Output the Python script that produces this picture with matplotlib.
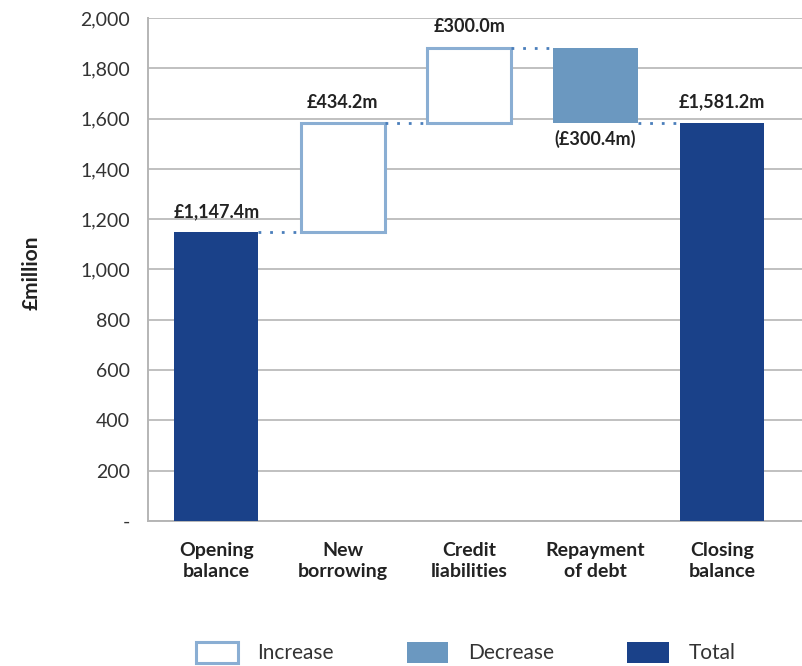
import numpy as np
import matplotlib.pyplot as plt
from matplotlib.patches import Patch

# data
categories = ["Opening\nbalance", "New\nborrowing", "Credit\nliabilities", "Repayment\nof debt", "Closing\nbalance"]
changes = [1147.4, 434.2, 300.0, -300.4, 1581.2]
kinds = ["total", "increase", "increase", "decrease", "total"]
labels = ["£1,147.4m", "£434.2m", "£300.0m", "(£300.4m)", "£1,581.2m"]
yticks = [0, 200, 400, 600, 800, 1000, 1200, 1400, 1600, 1800, 2000]
ytick_labels = ["-", "200", "400", "600", "800", "1,000", "1,200", "1,400", "1,600", "1,800", "2,000"]

c_total = "#1a4189"
c_dec = "#6b98c0"
c_inc_edge = "#8aaed3"
c_dot = "#4a7ebb"
c_grid = "#b5b5b5"
c_text = "#222222"

plt.rcParams["font.family"] = ["Lato", "DejaVu Sans"]

fig = plt.figure(figsize=(8.03, 6.66), dpi=100)
ax = fig.add_axes([0.1843, 0.2177, 0.8157, 0.7553])

x = np.arange(len(categories))
w = 0.667

# bottoms / tops for the waterfall
bottoms, tops = [], []
level = 0.0
for v, k in zip(changes, kinds):
    if k == "total":
        bottoms.append(0.0)
        tops.append(v)
        level = v
    else:
        new = level + v
        bottoms.append(min(level, new))
        tops.append(max(level, new))
        level = new

for i, k in enumerate(kinds):
    h = tops[i] - bottoms[i]
    if k == "total":
        ax.bar(x[i], h, w, bottom=bottoms[i], color=c_total, zorder=3)
    elif k == "decrease":
        ax.bar(x[i], h, w, bottom=bottoms[i], color=c_dec, zorder=3)
    else:
        ax.bar(x[i], h, w, bottom=bottoms[i], facecolor="white",
               edgecolor=c_inc_edge, linewidth=2.2, zorder=3)

# connectors
running = 0.0
for i in range(len(changes) - 1):
    running = changes[i] if kinds[i] == "total" else running + changes[i]
    ax.plot([x[i] + w / 2, x[i + 1] - w / 2], [running, running],
            linestyle=(0, (1, 3.2)), color=c_dot, linewidth=2, zorder=4)

# value labels
for i, lab in enumerate(labels):
    if kinds[i] == "decrease":
        ax.text(x[i], bottoms[i] - 28, lab, ha="center", va="top",
                fontsize=13, fontweight="bold", color=c_text)
    else:
        ax.text(x[i], tops[i] + 50, lab, ha="center", va="bottom",
                fontsize=13, fontweight="bold", color=c_text)

ax.set_xlim(-0.54, 4.64)
ax.set_ylim(0, 2000)
ax.set_yticks(yticks)
ax.set_yticklabels(ytick_labels, fontsize=14, color="#333333")
ax.set_xticks(x)
ax.set_xticklabels(categories, fontsize=14, fontweight="bold", color=c_text,
                   linespacing=1.3)
ax.tick_params(axis="both", length=0)
ax.tick_params(axis="y", pad=13)
ax.tick_params(axis="x", pad=15)
ax.grid(axis="y", color=c_grid, linewidth=1.2, zorder=0)
for s in ["top", "right"]:
    ax.spines[s].set_visible(False)
for s in ["left", "bottom"]:
    ax.spines[s].set_color(c_grid)
    ax.spines[s].set_linewidth(1.4)

fig.text(0.04, 0.59, "£million", rotation=90, ha="center", va="center",
         fontsize=15, fontweight="bold", color=c_text)

handles = [
    Patch(facecolor="white", edgecolor=c_inc_edge, linewidth=2.2, label="Increase"),
    Patch(facecolor=c_dec, label="Decrease"),
    Patch(facecolor=c_total, label="Total"),
]
fig.legend(handles=handles, loc="center", bbox_to_anchor=(0.58, 0.02), ncol=3,
           frameon=False, fontsize=15, handlelength=2.0, handleheight=1.15,
           handletextpad=0.95, columnspacing=3.5, labelcolor="#333333")

fig.savefig("out.png", dpi=100)
